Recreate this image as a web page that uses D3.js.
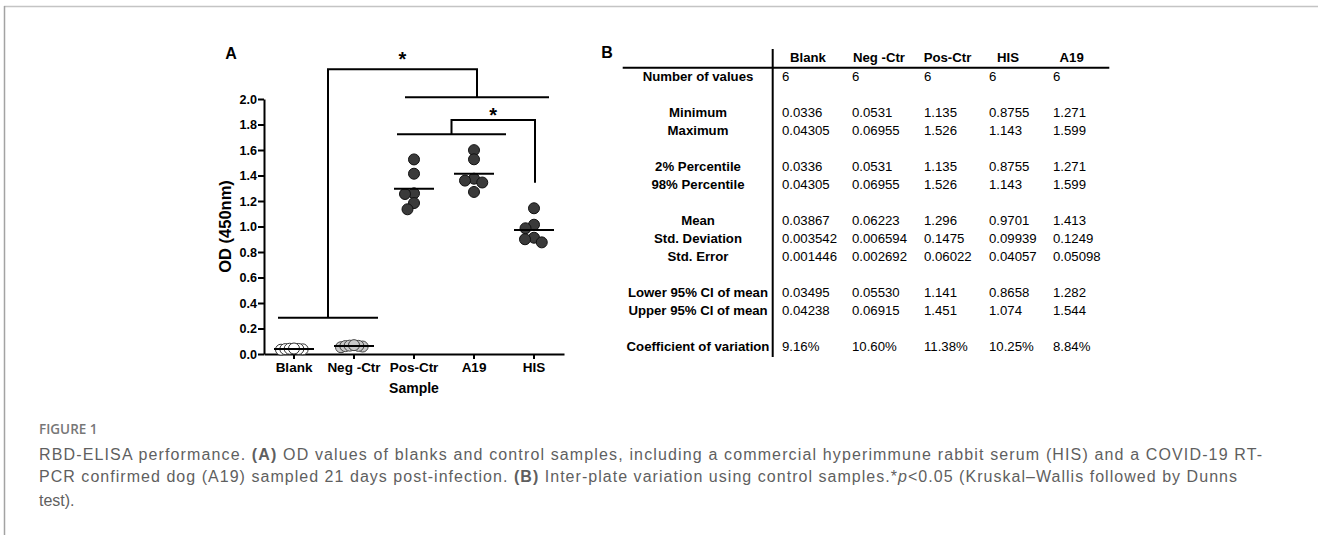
<!DOCTYPE html>
<html>
<head>
<meta charset="utf-8">
<script src="https://cdn.jsdelivr.net/npm/d3@7"></script>
<style>
  body { margin: 0; background: #fff; }
  svg text { font-family: Arial, "Liberation Sans", sans-serif; }
</style>
</head>
<body>
<div id="fig"></div>
<script>
/*
Figure 1: scatter of OD values (A) and descriptive stats table (B)
*/

// ---- panel A data ----
var categories = ['Blank', 'Neg -Ctr', 'Pos-Ctr', 'A19', 'HIS'];
var blankVals = [0.0336, 0.0365, 0.0385, 0.0395, 0.0412, 0.04305];
var negVals = [0.0531, 0.0585, 0.0620, 0.0640, 0.0655, 0.06955];
var posVals = [1.526, 1.414, 1.260, 1.255, 1.184, 1.135];
var a19Vals = [1.599, 1.527, 1.375, 1.360, 1.345, 1.271];
var hisVals = [1.143, 1.014, 0.986, 0.912, 0.900, 0.8755];
var yTicks = [0, 0.2, 0.4, 0.6, 0.8, 1.0, 1.2, 1.4, 1.6, 1.8, 2.0];

// ---- panel B data ----
var tableCols = ['Blank', 'Neg -Ctr', 'Pos-Ctr', 'HIS', 'A19'];
var rowLabels = ['Number of values', '', 'Minimum', 'Maximum', '', '2% Percentile', '98% Percentile', '',
    'Mean', 'Std. Deviation', 'Std. Error', '', 'Lower 95% CI of mean', 'Upper 95% CI of mean', '',
    'Coefficient of variation'];
var blankCol = ['6', '', '0.0336', '0.04305', '', '0.0336', '0.04305', '', '0.03867', '0.003542', '0.001446', '', '0.03495', '0.04238', '', '9.16%'];
var negCol = ['6', '', '0.0531', '0.06955', '', '0.0531', '0.06955', '', '0.06223', '0.006594', '0.002692', '', '0.05530', '0.06915', '', '10.60%'];
var posCol = ['6', '', '1.135', '1.526', '', '1.135', '1.526', '', '1.296', '0.1475', '0.06022', '', '1.141', '1.451', '', '11.38%'];
var hisCol = ['6', '', '0.8755', '1.143', '', '0.8755', '1.143', '', '0.9701', '0.09939', '0.04057', '', '0.8658', '1.074', '', '10.25%'];
var a19Col = ['6', '', '1.271', '1.599', '', '1.271', '1.599', '', '1.413', '0.1249', '0.05098', '', '1.282', '1.544', '', '8.84%'];

var W = 1318, H = 535;

var svg = d3.select('#fig')
    .append('svg')
    .attr('width', W)
    .attr('height', H);

// frame of the figure box
svg.append('line').attr('x1', 4).attr('x2', W).attr('y1', 6.5).attr('y2', 6.5)
    .attr('stroke', '#c4c4c4').attr('stroke-width', 1.5);
svg.append('line').attr('x1', 4.5).attr('x2', 4.5).attr('y1', 6).attr('y2', H)
    .attr('stroke', '#a3a3a3').attr('stroke-width', 1.5);

// ================= panel A =================
var groups = [
    { key: 'Blank', values: blankVals, fill: '#ffffff', stroke: '#333' },
    { key: 'Neg -Ctr', values: negVals, fill: '#c8c8c8', stroke: '#444' },
    { key: 'Pos-Ctr', values: posVals, fill: '#3a3a3a', stroke: '#111' },
    { key: 'A19', values: a19Vals, fill: '#3a3a3a', stroke: '#111' },
    { key: 'HIS', values: hisVals, fill: '#3a3a3a', stroke: '#111' }
];

var xScale = d3.scaleBand()
    .domain(categories)
    .range([264, 564])
    .padding(0);

var yScale = d3.scaleLinear()
    .domain([0, 2])
    .range([354, 99]);

function xc(cat) {
    return xScale(cat) + xScale.bandwidth() / 2;
}

var gA = svg.append('g');

// y axis
var yAxis = d3.axisLeft(yScale)
    .tickValues(yTicks)
    .tickFormat(d3.format('.1f'))
    .tickSize(6)
    .tickSizeOuter(0)
    .tickPadding(1);

gA.append('g')
    .attr('transform', 'translate(264,0)')
    .call(yAxis)
    .call(g => g.selectAll('line, path').attr('stroke', '#000').attr('stroke-width', 2))
    .call(g => g.selectAll('text').attr('fill', '#000')
        .style('font-size', '12.6px').style('font-weight', 'bold'));

// x axis
var xAxis = d3.axisBottom(xScale)
    .tickSize(5)
    .tickSizeOuter(0)
    .tickPadding(3);

gA.append('g')
    .attr('transform', 'translate(0,354)')
    .call(xAxis)
    .call(g => g.selectAll('line, path').attr('stroke', '#000').attr('stroke-width', 2))
    .call(g => g.selectAll('text').attr('fill', '#000')
        .style('font-size', '13.5px').style('font-weight', 'bold'));

gA.append('text')
    .attr('x', 414).attr('y', 388.5).attr('dy', '0.35em')
    .attr('text-anchor', 'middle')
    .style('font-size', '14px').style('font-weight', 'bold')
    .text('Sample');

gA.append('text')
    .attr('transform', 'translate(225,226.5) rotate(-90)')
    .attr('dy', '0.35em')
    .attr('text-anchor', 'middle')
    .style('font-size', '16.5px').style('font-weight', 'bold')
    .text('OD (450nm)');

gA.append('text')
    .attr('x', 231).attr('y', 59)
    .attr('text-anchor', 'middle')
    .style('font-size', '16px').style('font-weight', 'bold')
    .text('A');

// simple beeswarm: greedy offsets, squeezed into the column if too wide
function swarm(vals, minD, maxHalf) {
    var order = d3.range(vals.length).sort((a, b) => vals[b] - vals[a]);
    var placed = [];
    var off = new Array(vals.length);
    order.forEach(function (i) {
        var py = yScale(vals[i]);
        var best = 0;
        for (var k = 0; k < 400; k++) {
            var cand = k === 0 ? 0 : (k % 2 ? -1 : 1) * Math.ceil(k / 2) * 0.25;
            if (placed.every(p => Math.hypot(p.x - cand, p.y - py) >= minD)) {
                best = cand;
                break;
            }
        }
        placed.push({ x: best, y: py });
        off[i] = best;
    });
    var ext = d3.max(off, Math.abs);
    var f = ext > maxHalf ? maxHalf / ext : 1;
    return off.map(o => o * f);
}

var r = 5.5;

groups.forEach(function (grp) {
    var offs = swarm(grp.values, 9, 13);
    gA.append('g')
        .selectAll('circle')
        .data(grp.values)
        .enter()
        .append('circle')
        .attr('cx', (d, i) => xc(grp.key) + offs[i])
        .attr('cy', d => yScale(d))
        .attr('r', r)
        .attr('fill', grp.fill)
        .attr('stroke', grp.stroke)
        .attr('stroke-width', 1);
});

// mean lines
gA.append('g')
    .selectAll('line')
    .data(groups)
    .enter()
    .append('line')
    .attr('x1', d => xc(d.key) - 20)
    .attr('x2', d => xc(d.key) + 20)
    .attr('y1', d => yScale(d3.mean(d.values)))
    .attr('y2', d => yScale(d3.mean(d.values)))
    .attr('stroke', '#000')
    .attr('stroke-width', 2);

// significance brackets (annotation layout)
var brackets = [
    {
        left: { a: ['Blank', -16], b: ['Neg -Ctr', 24], y: 0.285 },
        right: { a: ['Pos-Ctr', -9], b: ['HIS', 15], y: 2.013 },
        top: 2.233, star: 2.342
    },
    {
        left: { a: ['Pos-Ctr', -17], b: ['A19', 32], y: 1.723 },
        right: { a: ['HIS', 1], b: ['HIS', 1], y: 1.343 },
        top: 1.835, star: 1.908
    }
];

function px(p) {
    return xc(p[0]) + p[1];
}

brackets.forEach(function (br) {
    var l0 = px(br.left.a), l1 = px(br.left.b);
    var r0 = px(br.right.a), r1 = px(br.right.b);
    var lm = (l0 + l1) / 2, rm = (r0 + r1) / 2;
    var gb = gA.append('g').attr('fill', 'none').attr('stroke', '#000').attr('stroke-width', 2);
    gb.append('line').attr('x1', l0).attr('x2', l1)
        .attr('y1', yScale(br.left.y)).attr('y2', yScale(br.left.y));
    if (r1 > r0) {
        gb.append('line').attr('x1', r0).attr('x2', r1)
            .attr('y1', yScale(br.right.y)).attr('y2', yScale(br.right.y));
    }
    gb.append('path')
        .attr('d', 'M' + lm + ',' + yScale(br.left.y) +
            'V' + yScale(br.top) + 'H' + rm + 'V' + yScale(br.right.y));
    gA.append('text')
        .attr('x', (lm + rm) / 2)
        .attr('y', yScale(br.star) + 11)
        .attr('text-anchor', 'middle')
        .style('font-size', '20px').style('font-weight', 'bold')
        .text('*');
});

// ================= panel B =================
var gB = svg.append('g');
var colData = [blankCol, negCol, posCol, hisCol, a19Col];

var rowY = d3.scaleLinear()
    .domain([0, rowLabels.length - 1])
    .range([76, 346.7]);

var colX = d3.scaleOrdinal()
    .domain(tableCols)
    .range([782, 852, 924, 989, 1053]);

var headX = d3.scaleOrdinal()
    .domain(tableCols)
    .range([808, 879, 947.5, 1008, 1071.7]);

gB.append('text')
    .attr('x', 607).attr('y', 58)
    .attr('text-anchor', 'middle')
    .style('font-size', '16px').style('font-weight', 'bold')
    .text('B');

gB.append('line')
    .attr('x1', 772.7).attr('x2', 772.7).attr('y1', 49).attr('y2', 357)
    .attr('stroke', '#000').attr('stroke-width', 2);
gB.append('line')
    .attr('x1', 622.7).attr('x2', 1109.3).attr('y1', 67.7).attr('y2', 67.7)
    .attr('stroke', '#000').attr('stroke-width', 2);

gB.selectAll('.head')
    .data(tableCols)
    .enter()
    .append('text')
    .attr('class', 'head')
    .attr('x', d => headX(d))
    .attr('y', 57.5)
    .attr('dy', '0.35em')
    .attr('text-anchor', 'middle')
    .style('font-size', '13.2px').style('font-weight', 'bold')
    .text(d => d);

gB.selectAll('.rlab')
    .data(rowLabels)
    .enter()
    .append('text')
    .attr('class', 'rlab')
    .attr('x', 698)
    .attr('y', (d, i) => rowY(i))
    .attr('dy', '0.35em')
    .attr('text-anchor', 'middle')
    .style('font-size', '13.2px').style('font-weight', 'bold')
    .text(d => d);

tableCols.forEach(function (c, ci) {
    gB.append('g')
        .selectAll('text')
        .data(colData[ci])
        .enter()
        .append('text')
        .attr('x', colX(c))
        .attr('y', (d, i) => rowY(i))
        .attr('dy', '0.35em')
        .style('font-size', '13.2px')
        .text(d => d);
});

// ================= caption =================
var cap = svg.append('g').attr('fill', '#5f5f5f')
    .style('font-family', '"Open Sans", "Noto Sans", sans-serif');

cap.append('text')
    .attr('x', 39).attr('y', 434)
    .style('font-family', '"Open Sans", sans-serif')
    .style('font-size', '13.5px').style('font-weight', '600')
    .attr('fill', '#777')
    .text('FIGURE 1');

var l1 = cap.append('text').attr('x', 39).attr('y', 459.5)
    .attr('textLength', 1223).attr('lengthAdjust', 'spacing')
    .style('font-size', '16px');
l1.append('tspan').text('RBD-ELISA performance. ');
l1.append('tspan').style('font-weight', 'bold').text('(A)');
l1.append('tspan').text(' OD values of blanks and control samples, including a commercial hyperimmune rabbit serum (HIS) and a COVID-19 RT-');

var l2 = cap.append('text').attr('x', 39).attr('y', 482)
    .attr('textLength', 1198).attr('lengthAdjust', 'spacing')
    .style('font-size', '16px');
l2.append('tspan').text('PCR confirmed dog (A19) sampled 21 days post-infection. ');
l2.append('tspan').style('font-weight', 'bold').text('(B)');
l2.append('tspan').text(' Inter-plate variation using control samples.*');
l2.append('tspan').style('font-style', 'italic').text('p');
l2.append('tspan').text('<0.05 (Kruskal\u2013Wallis followed by Dunns');

cap.append('text').attr('x', 39).attr('y', 505.5)
    .style('font-size', '16px')
    .text('test).');
</script>
</body>
</html>
